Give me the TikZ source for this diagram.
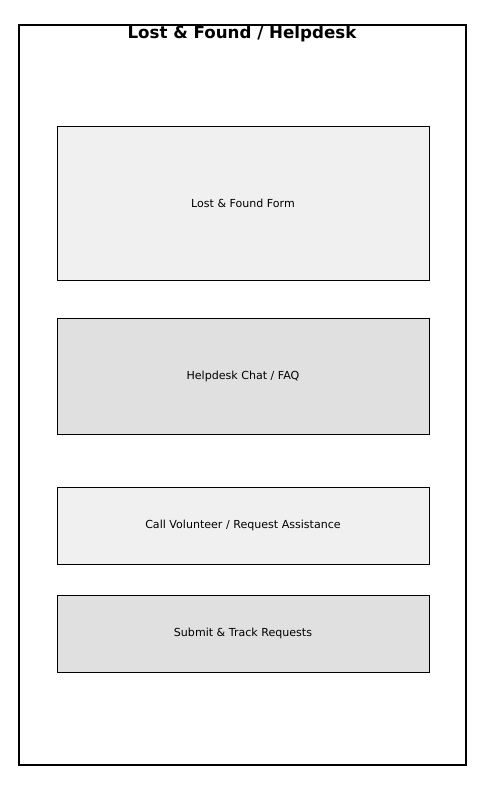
\documentclass[tikz,border=0pt]{standalone}
\usepackage{fontspec}
\setmainfont{DejaVu Sans}
\tikzset{every picture/.style={line width=0.75pt}}
\tikzset{
  panel/.style={draw, line width=0.75pt, minimum width=372*0.75pt, inner sep=0pt, font=\fontsize{8.3}{10}\selectfont},
  panelA/.style={panel, fill={rgb,255:red,240;green,240;blue,240}},
  panelB/.style={panel, fill={rgb,255:red,224;green,224;blue,224}}
}

\begin{document}
\begin{tikzpicture}[x=0.75pt,y=0.75pt,yscale=-1,xscale=1]
	\useasboundingbox (0,0) rectangle (484,790); %set diagram to 484 by 790
	
	%Shape: Rectangle [id:frame] 
	\draw  [line width=1.2pt]  (19,25) rectangle (466,765) ;
	
	% Text Node
	\node (title) at (242,33.5) [inner sep=0.75pt, font=\bfseries\fontsize{12.5}{14}\selectfont]    {Lost \& Found / Helpdesk};
	
	%Shape: Rectangle [id:form] 
	\node (form) at (243,203) [panelA, minimum height=154*0.75pt]    {Lost \& Found Form};
	%Shape: Rectangle [id:chat] 
	\node (chat) at (243,376) [panelB, minimum height=116*0.75pt]    {Helpdesk Chat / FAQ};
	%Shape: Rectangle [id:call] 
	\node (call) at (243,525.5) [panelA, minimum height=77*0.75pt]    {Call Volunteer / Request Assistance};
	%Shape: Rectangle [id:track] 
	\node (track) at (243,633.5) [panelB, minimum height=77*0.75pt]    {Submit \& Track Requests};
	
\end{tikzpicture}
\end{document}
